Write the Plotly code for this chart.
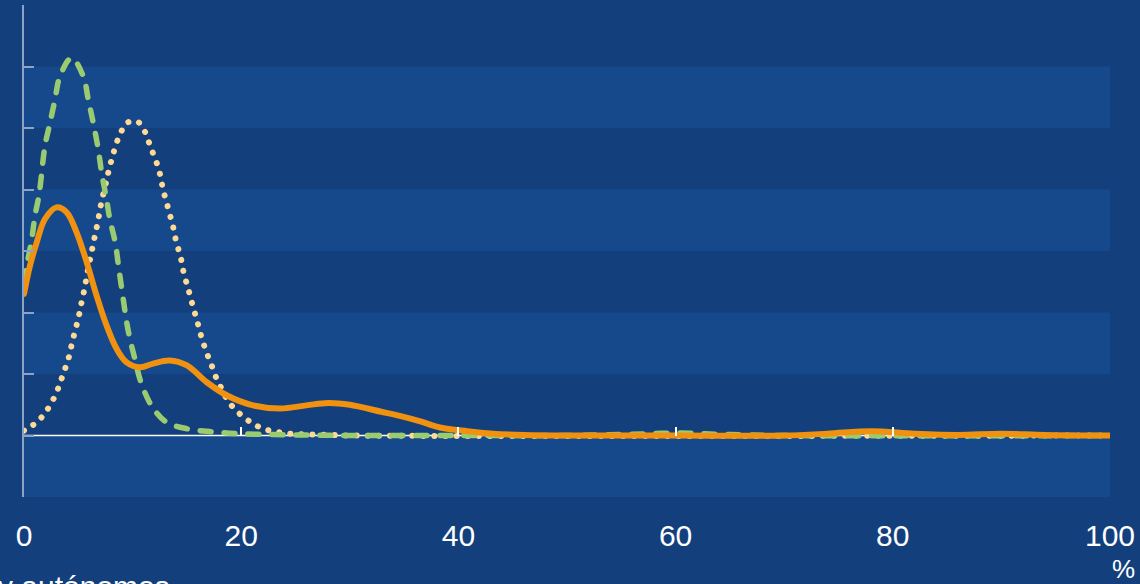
import plotly.graph_objects as go

# Density curves (x in %, y in axis units)
orange_x = [0, 0.55, 1.17, 1.93, 3.0, 3.93, 4.85, 5.77, 6.69, 7.6, 8.53, 9.45, 10.7, 11.9, 13.4, 15.0, 16.8,
            18.7, 21.1, 23.6, 26.0, 28.0, 30, 32.8, 34.6, 36.5, 38.3, 40.8, 43.2, 46, 50, 60, 70, 74, 78, 82,
            86, 90, 94, 100]
orange_y = [2.30, 2.76, 3.14, 3.52, 3.71, 3.63, 3.30, 2.82, 2.27, 1.79, 1.41, 1.19, 1.11, 1.17, 1.22, 1.14, 0.87,
            0.65, 0.49, 0.44, 0.49, 0.53, 0.50, 0.39, 0.32, 0.23, 0.13, 0.07, 0.03, 0.01, 0.0, 0.0, 0.0, 0.03, 0.07,
            0.03, 0.01, 0.03, 0.01, 0.0]

green_x = [0, 0.25, 0.71, 1.01, 1.4, 1.93, 2.39, 2.85, 3.31, 4.39, 5.46, 5.92, 6.38, 6.84, 7.15, 7.6, 7.9, 8.4,
           8.7, 9.15, 9.6, 10.2, 10.8, 11.8, 13.1, 15.0, 17.4, 19.6, 25, 30, 40, 50, 56, 60, 64, 70, 100]
green_y = [2.5, 2.76, 3.19, 3.57, 3.93, 4.71, 5.08, 5.46, 5.84, 6.14, 5.84, 5.46, 5.08, 4.65, 4.27, 3.84, 3.52,
           3.14, 2.76, 2.2, 1.7, 1.25, 0.85, 0.47, 0.22, 0.11, 0.06, 0.03, 0.01, 0, 0, 0, 0.02, 0.04, 0.02, 0, 0]

dot_x = [0, 0.1, 1.0, 1.78, 2.39, 2.95, 3.35, 3.71, 4.08, 4.33, 4.6, 4.88, 5.13, 5.34, 5.59, 5.77, 6.0, 6.23,
         6.45, 6.69, 6.9, 7.09, 7.6, 7.86, 8.16, 8.47, 8.9, 9.45, 10.4, 11.1, 11.5, 11.9, 12.3, 12.6, 12.8,
         13.1, 13.4, 13.7, 13.9, 14.2, 14.5, 14.7, 15.0, 15.3, 15.6, 15.9, 16.2, 16.5, 16.9, 17.3, 17.7, 18.2,
         18.7, 19.4, 20.3, 21.2, 22.2, 23.3, 24.5, 25.7, 28, 30, 100]
dot_y = [0.08, 0.11, 0.19, 0.33, 0.49, 0.68, 0.87, 1.05, 1.24, 1.43, 1.63, 1.82, 2.01, 2.2, 2.40, 2.59, 2.79,
         2.99, 3.18, 3.38, 3.57, 3.76, 4.15, 4.35, 4.54, 4.73, 4.92, 5.08, 5.11, 4.95, 4.77, 4.58, 4.39, 4.19,
         4.0, 3.81, 3.61, 3.42, 3.24, 3.04, 2.84, 2.65, 2.46, 2.27, 2.07, 1.89, 1.69, 1.51, 1.31, 1.13, 0.94,
         0.76, 0.59, 0.43, 0.29, 0.18, 0.10, 0.06, 0.03, 0.02, 0.01, 0, 0]

x_ticks = [0, 20, 40, 60, 80, 100]
y_ticks = [-1, 0, 1, 2, 3, 4, 5, 6, 7]
band_starts = [-1, 1, 3, 5]

DARK = "#13407d"
LIGHT = "#16498b"
AXIS = "#8ca3c6"

fig = go.Figure()
fig.add_trace(go.Scatter(x=dot_x, y=dot_y, mode="lines",
                         line=dict(color="#fcd995", width=6, dash="0.1px,11px", shape="spline", smoothing=1.0),
                         hoverinfo="skip"))
fig.add_trace(go.Scatter(x=green_x, y=green_y, mode="lines",
                         line=dict(color="#9bcb71", width=5.5, dash="11px,13px", shape="spline", smoothing=1.0),
                         hoverinfo="skip"))
fig.add_trace(go.Scatter(x=orange_x, y=orange_y, mode="lines",
                         line=dict(color="#f0910f", width=6, shape="spline", smoothing=1.0),
                         xaxis="x2", hoverinfo="skip"))

shapes = []
for b in band_starts:
    shapes.append(dict(type="rect", xref="x domain", yref="y", x0=0, x1=1, y0=b, y1=b + 1,
                       fillcolor=LIGHT, line=dict(width=0), layer="below"))
shapes.append(dict(type="line", xref="x domain", yref="y", x0=0, x1=1, y0=0, y1=0,
                   line=dict(color="white", width=1.5), layer="below"))

fig.update_layout(
    width=1140, height=584,
    margin=dict(l=24, r=30, t=5, b=87),
    paper_bgcolor=DARK, plot_bgcolor=DARK,
    showlegend=False,
    shapes=shapes,
    font=dict(family="Liberation Sans, Arial, sans-serif", color="white"),
    xaxis=dict(range=[0, 100], tickvals=x_ticks, ticks="", showgrid=False, zeroline=False, showline=False,
               tickfont=dict(size=30, color="white"), ticklabelstandoff=18, fixedrange=True),
    xaxis2=dict(range=[0, 100], overlaying="x", anchor="free", position=0.125, side="bottom",
                tickvals=x_ticks, ticks="inside", ticklen=9, tickwidth=1.5, tickcolor="white",
                showticklabels=False, showgrid=False, zeroline=False, showline=False),
    yaxis=dict(range=[-1, 7], tickvals=y_ticks, ticks="inside", ticklen=10, tickwidth=2, tickcolor=AXIS,
               showticklabels=False, showgrid=False, zeroline=False, showline=True, linecolor=AXIS, linewidth=2),
    annotations=[
        dict(text="%", xref="paper", yref="paper", x=1.0, y=-0.111, xanchor="left", yanchor="top",
             showarrow=False, xshift=0, font=dict(size=26, color="white")),
        dict(text="y autónomos", xref="paper", yref="paper", x=0, y=-0.145, xanchor="left", yanchor="top",
             showarrow=False, xshift=-28, font=dict(size=30, color="white")),
    ],
)

post = (
    "document.body.style.margin='0';"
    "document.querySelectorAll('.scatterlayer .js-line').forEach(function(p){"
    "p.style.strokeLinecap='round';p.style.strokeLinejoin='round';});"
)
fig.write_html("out.html", post_script=post, config={"displayModeBar": False})
